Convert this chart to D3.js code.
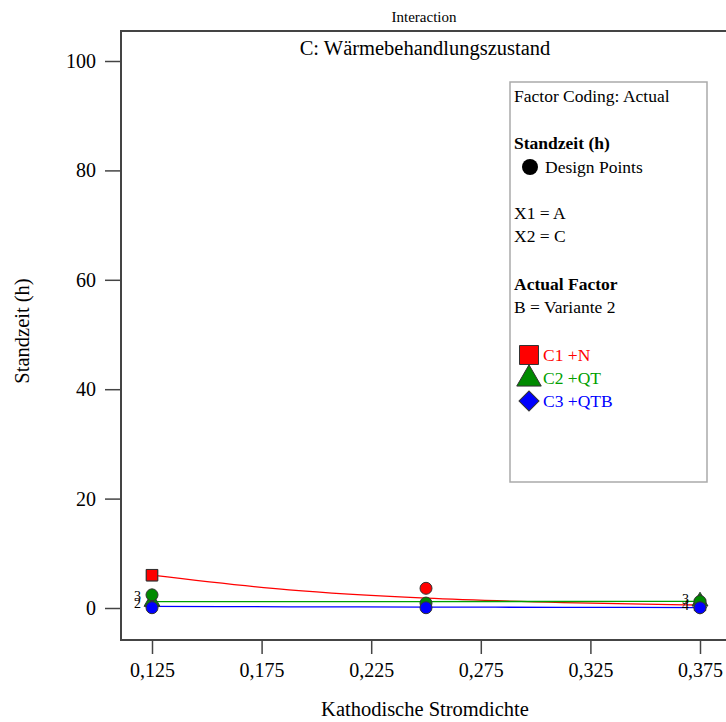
<!DOCTYPE html>
<html lang="de">
<head>
	<meta charset="UTF-8">
	<title>Interaction</title>
	<script type="text/javascript" src="https://cdn.jsdelivr.net/npm/d3@7"></script>
	<style>
		body { margin: 0; background: #fff; }
		text { font-family: 'Liberation Serif', 'Times New Roman', serif; }
	</style>
</head>
<body>
<script type="text/javascript">
	// model lines (predicted Standzeit)
	var lineX = [0.125, 0.1875, 0.25, 0.3125, 0.375];
	var lineC1 = [6.0, 3.3, 1.8, 1.0, 0.55];
	var lineC2 = [1.15, 1.17, 1.18, 1.19, 1.2];
	var lineC3 = [0.28, 0.22, 0.17, 0.12, 0.08];

	// design points
	var ptsC1x = [0.25];
	var ptsC1y = [3.6];
	var ptsC2x = [0.125, 0.25, 0.375];
	var ptsC2y = [2.4, 0.9, 1.2];
	var ptsC3x = [0.125, 0.25, 0.375];
	var ptsC3y = [0.05, 0.05, 0.05];

	// replicate count labels
	var countX = [0.125, 0.125, 0.375, 0.375];
	var countY = [2.1, 0.7, 1.4, 0.4];
	var countText = ['3', '2', '3', '4'];

	var xTicks = [0.125, 0.175, 0.225, 0.275, 0.325, 0.375];
	var yTicks = [0, 20, 40, 60, 80, 100];

	var seriesNames = ['C1 +N', 'C2 +QT', 'C3 +QTB'];
	var seriesColors = ['#ff0000', '#00a000', '#0000ff'];
	var markerFill = ['#ff0000', '#008a00', '#0000ff'];

	var legendLines = [
		{t: 'Factor Coding: Actual', b: false, y: 102},
		{t: 'Standzeit (h)', b: true, y: 149},
		{t: 'X1 = A', b: false, y: 219},
		{t: 'X2 = C', b: false, y: 242},
		{t: 'Actual Factor', b: true, y: 290},
		{t: 'B = Variante 2', b: false, y: 313}
	];

	window.onload = function () {
		var W = 726, H = 722;
		var svg = d3.select('body').append('svg')
			.attr('width', W)
			.attr('height', H);

		var x = d3.scaleLinear().domain([0.125, 0.375]).range([152, 700]);
		var y = d3.scaleLinear().domain([0, 100]).range([608, 61]);
		var frameL = 121, frameT = 31, frameB = 640, frameR = 735;
		var fmt = function (d) { return d3.format('.3f')(d).replace('.', ','); };

		// titles
		svg.append('text').attr('x', 424).attr('y', 22)
			.attr('text-anchor', 'middle').style('font-size', '15px')
			.text('Interaction');
		svg.append('text').attr('x', 425).attr('y', 55)
			.attr('text-anchor', 'middle').style('font-size', '20.5px')
			.text('C: Wärmebehandlungszustand');

		// frame
		svg.append('path')
			.attr('d', 'M' + frameR + ',' + frameT + 'H' + frameL + 'V' + frameB + 'H' + frameR)
			.attr('fill', 'none').attr('stroke', '#444').attr('stroke-width', 2);

		// y axis
		var yAxis = svg.append('g').attr('transform', 'translate(' + frameL + ',0)')
			.call(d3.axisLeft(y).tickValues(yTicks).tickSize(16).tickPadding(9));
		yAxis.select('.domain').remove();
		yAxis.selectAll('line').attr('stroke', '#444').attr('stroke-width', 1.5);
		yAxis.selectAll('text').style('font-size', '20px').attr('fill', '#000')
			.style('font-family', "'Liberation Serif', serif");

		// x axis
		var xAxis = svg.append('g').attr('transform', 'translate(0,' + frameB + ')')
			.call(d3.axisBottom(x).tickValues(xTicks).tickFormat(fmt).tickSize(14).tickPadding(9));
		xAxis.select('.domain').remove();
		xAxis.selectAll('line').attr('stroke', '#444').attr('stroke-width', 1.5);
		xAxis.selectAll('text').style('font-size', '20px').attr('fill', '#000')
			.style('font-family', "'Liberation Serif', serif");

		// axis titles
		svg.append('text').attr('x', 425).attr('y', 716)
			.attr('text-anchor', 'middle').style('font-size', '20.5px')
			.text('Kathodische Stromdichte');
		svg.append('text')
			.attr('transform', 'translate(29,331) rotate(-90)')
			.attr('text-anchor', 'middle').style('font-size', '20.5px')
			.text('Standzeit (h)');

		// model lines
		var lines = [lineC1, lineC2, lineC3];
		var lineGen = d3.line()
			.x(function (d) { return x(d[0]); })
			.y(function (d) { return y(d[1]); })
			.curve(d3.curveMonotoneX);
		lines.forEach(function (vals, i) {
			svg.append('path')
				.datum(lineX.map(function (xv, j) { return [xv, vals[j]]; }))
				.attr('d', lineGen)
				.attr('fill', 'none')
				.attr('stroke', seriesColors[i])
				.attr('stroke-width', 1.3);
		});

		// end markers
		var symbols = [d3.symbolSquare, d3.symbolTriangle, d3.symbolSquare];
		var symSizes = [130, 110, 80];
		var symRot = [0, 0, 45];
		lines.forEach(function (vals, i) {
			[0, vals.length - 1].forEach(function (j) {
				svg.append('path')
					.attr('d', d3.symbol().type(symbols[i]).size(symSizes[i])())
					.attr('transform', 'translate(' + x(lineX[j]) + ',' + y(vals[j]) + ') rotate(' + symRot[i] + ')')
					.attr('fill', markerFill[i])
					.attr('stroke', '#333').attr('stroke-width', 1);
			});
		});

		// design points
		var pts = [[ptsC1x, ptsC1y], [ptsC2x, ptsC2y], [ptsC3x, ptsC3y]];
		pts.forEach(function (p, i) {
			svg.selectAll('.pt' + i)
				.data(p[0].map(function (xv, j) { return [xv, p[1][j]]; }))
				.enter().append('circle')
				.attr('class', 'pt' + i)
				.attr('cx', function (d) { return x(d[0]); })
				.attr('cy', function (d) { return y(d[1]); })
				.attr('r', 6)
				.attr('fill', markerFill[i])
				.attr('stroke', '#333').attr('stroke-width', 1);
		});
		// the red square at the left end sits on top
		svg.append('path')
			.attr('d', d3.symbol().type(d3.symbolSquare).size(130)())
			.attr('transform', 'translate(' + x(lineX[0]) + ',' + y(lineC1[0]) + ')')
			.attr('fill', markerFill[0])
			.attr('stroke', '#333').attr('stroke-width', 1);

		// count labels
		svg.selectAll('.cnt')
			.data(countText)
			.enter().append('text')
			.attr('class', 'cnt')
			.attr('x', function (d, i) { return x(countX[i]) - 11; })
			.attr('y', function (d, i) { return y(countY[i]) + 4; })
			.attr('text-anchor', 'end')
			.style('font-size', '14px')
			.text(function (d) { return d; });

		// legend
		var lg = svg.append('g');
		lg.append('rect').attr('x', 510).attr('y', 82).attr('width', 197).attr('height', 400)
			.attr('fill', '#fff').attr('stroke', '#aaa').attr('stroke-width', 1.5);
		lg.selectAll('.lt').data(legendLines).enter().append('text')
			.attr('class', 'lt')
			.attr('x', 514)
			.attr('y', function (d) { return d.y; })
			.style('font-size', '17.5px')
			.style('font-weight', function (d) { return d.b ? 'bold' : 'normal'; })
			.text(function (d) { return d.t; });
		lg.append('circle').attr('cx', 530).attr('cy', 167).attr('r', 8).attr('fill', '#000');
		lg.append('text').attr('x', 545).attr('y', 173).style('font-size', '17.5px').text('Design Points');

		var legSym = [d3.symbolSquare, d3.symbolTriangle, d3.symbolSquare];
		var legSize = [360, 260, 200];
		var legRot = [0, 0, 45];
		seriesNames.forEach(function (name, i) {
			var cy = 355 + i * 23;
			lg.append('path')
				.attr('d', d3.symbol().type(legSym[i]).size(legSize[i])())
				.attr('transform', 'translate(529,' + (cy + (i === 1 ? 1 : 0)) + ') rotate(' + legRot[i] + ')')
				.attr('fill', markerFill[i])
				.attr('stroke', '#333').attr('stroke-width', 1);
			lg.append('text').attr('x', 543).attr('y', cy + 6)
				.style('font-size', '17.5px')
				.attr('fill', seriesColors[i])
				.text(name);
		});
	};
</script>
</body>
</html>
